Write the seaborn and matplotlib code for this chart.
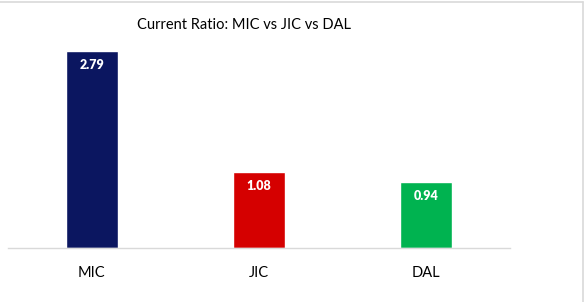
import matplotlib
matplotlib.use("Agg")
import matplotlib.pyplot as plt
import seaborn as sns
import pandas as pd
from matplotlib.lines import Line2D

categories = ["MIC", "JIC", "DAL"]
values = [2.79, 1.08, 0.94]
colors = ["#0B1660", "#D50000", "#00B350"]
title = "Current Ratio: MIC vs JIC vs DAL"

df = pd.DataFrame({"company": categories, "ratio": values})

sns.set_style("white")
plt.rcParams["font.family"] = ["Lato", "DejaVu Sans"]

W, H = 587, 302
fig = plt.figure(figsize=(W / 100, H / 100), dpi=100)
ax = fig.add_axes([8 / W, (H - 248) / H, (510 - 8) / W, (248 - 36) / H])

sns.barplot(data=df, x="company", y="ratio", hue="company", palette=colors,
            order=categories, hue_order=categories, width=0.31, legend=False,
            ax=ax, saturation=1)

ax.set_ylim(0, 3.0)
ax.set_xlim(-0.5, 2.5)
for s in ["top", "right", "left"]:
    ax.spines[s].set_visible(False)
ax.spines["bottom"].set_color("#D9D9D9")
ax.spines["bottom"].set_linewidth(1.0)
ax.set_yticks([])
ax.set_xlabel("")
ax.set_ylabel("")
ax.tick_params(axis="x", length=0, labelsize=10.5, pad=13, colors="#000000")

for i, v in enumerate(values):
    ax.text(i, v - 0.2, f"{v:.2f}", ha="center", va="center", color="white",
            fontsize=9, fontweight="heavy")

fig.text(244 / W, (H - 25) / H, title, ha="center", va="center", fontsize=10.5,
         color="#000000")

# chart border (spreadsheet chart frame)
fig.add_artist(Line2D([0, 583 / W], [1 - 1.5 / H, 1 - 1.5 / H], color="#D9D9D9", lw=1.2,
                      transform=fig.transFigure))
fig.add_artist(Line2D([583 / W, 583 / W], [0, 1 - 1.5 / H], color="#D9D9D9", lw=1.2,
                      transform=fig.transFigure))

fig.savefig("out.png", dpi=100)
